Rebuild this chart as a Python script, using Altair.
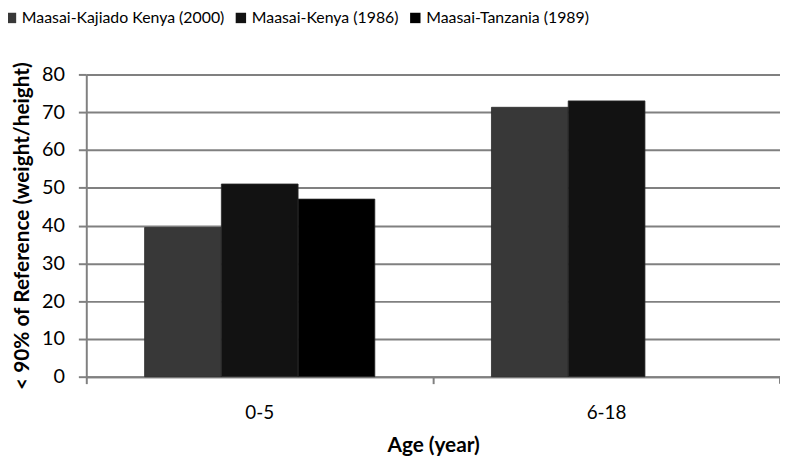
import altair as alt
import pandas as pd

ages = ["0-5", "6-18"]
series = ["Maasai-Kajiado Kenya (2000)", "Maasai-Kenya (1986)", "Maasai-Tanzania (1989)"]
kajiado = [39.5, 71.3]
kenya = [51.0, 73.0]
tanzania = [47.0, None]
colors = ["#383838", "#121212", "#000000"]

rows = []
for s, vals in zip(series, [kajiado, kenya, tanzania]):
    for a, v in zip(ages, vals):
        if v is not None:
            rows.append({"age": a, "series": s, "value": v})
df = pd.DataFrame(rows)

FONT = "Lato"

bars = alt.Chart(df).mark_bar(stroke="#2a2a2a", strokeWidth=0.8).encode(
    x=alt.X("age:N", sort=ages,
            scale=alt.Scale(paddingInner=0, paddingOuter=0),
            axis=alt.Axis(title="Age (year)", labelAngle=0, bandPosition=0,
                          ticks=True, tickSize=7, tickColor="#808080", tickWidth=2,
                          domainColor="#808080", domainWidth=2,
                          labelFontSize=19, labelPadding=20, labelColor="#000",
                          titleFontSize=21, titleFontWeight="bold", titlePadding=12,
                          grid=False, labelFont=FONT, titleFont=FONT)),
    xOffset=alt.XOffset("series:N", sort=series,
                        scale=alt.Scale(domain=series, paddingInner=0, paddingOuter=0.76)),
    y=alt.Y("value:Q", scale=alt.Scale(domain=[0, 80]),
            axis=alt.Axis(title="< 90% of Reference (weight/height)", values=list(range(0, 90, 10)),
                          tickSize=8, tickColor="#808080", tickWidth=2,
                          domainColor="#808080", domainWidth=2,
                          gridColor="#808080", gridWidth=2,
                          labelFontSize=20, labelPadding=14, labelColor="#000",
                          titleFontSize=21, titleFontWeight="bold", titlePadding=9,
                          labelFont=FONT, titleFont=FONT)),
    color=alt.Color("series:N", sort=series,
                    scale=alt.Scale(domain=series, range=colors),
                    legend=alt.Legend(title=None, orient="none", legendX=-84, legendY=-65,
                                      direction="horizontal", symbolType="square",
                                      symbolSize=110, symbolStrokeWidth=0,
                                      labelFontSize=16, labelFont=FONT, labelColor="#000",
                                      labelLimit=0, columnPadding=8, labelOffset=3)),
)

endtick = alt.Chart(pd.DataFrame({"v": [0]})).mark_rule(color="#808080", strokeWidth=2).encode(
    x=alt.value(700), y=alt.value(305), y2=alt.value(312)
)

chart = alt.layer(bars, endtick).properties(
    width=700, height=305,
    autosize=alt.AutoSizeParams(type="none"),
    padding={"left": 79, "top": 65, "right": 0, "bottom": 80},
).configure_view(stroke=None)

chart.save("out.html", embed_options={"renderer": "svg", "actions": False})
